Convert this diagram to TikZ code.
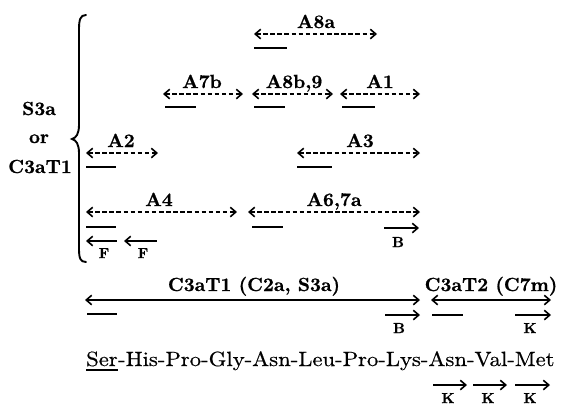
\documentclass[tikz,border=0pt]{standalone}
\usepackage{fontspec}
\setmainfont{lmroman10-regular.otf}[
  FakeStretch=1.1,
  UprightFeatures={FakeBold=0.5},
  BoldFont=lmroman10-bold.otf,
  BoldFeatures={FakeBold=0.9}]
\newfontfamily\labfont{lmroman10-bold.otf}[FakeBold=0.9]
\usetikzlibrary{arrows.meta}

\tikzset{
  lab/.style={font=\fontsize{19bp}{22bp}\labfont, inner sep=0pt, anchor=base},
  small/.style={font=\fontsize{14.5bp}{16bp}\labfont, inner sep=0pt, anchor=base},
  seqtext/.style={font=\fontsize{20.6bp}{24bp}\selectfont, inner sep=0pt, anchor=base west},
  barb/.tip={Straight Barb[length=5.5bp,width=9.5bp]},
  dasharrow/.style={line width=1.6bp, dash pattern=on 4.5bp off 2.6bp, barb-barb},
  solidboth/.style={line width=1.6bp, barb-barb},
  solidright/.style={line width=1.6bp, -barb},
  solidleft/.style={line width=1.6bp, barb-},
  uline/.style={line width=1.7bp},
}

% segment between two named end coordinates: name, x1, x2, y, style
\newcommand\drawseg[5]{%
  \coordinate (#1-l) at (#2,#4);
  \coordinate (#1-r) at (#3,#4);
  \draw[#5] (#1-l) -- (#1-r);
}

\begin{document}
\begin{tikzpicture}[x=1bp,y=-1bp]
\useasboundingbox (0,0) rectangle (561,408);

% bracket grouping the antibody rows
\draw[line width=1.9bp, line cap=round]
  (86,15) .. controls (80,15) and (79,20) .. (79,30) -- (79,125)
  .. controls (79,134) and (76,138) .. (72,139)
  .. controls (76,140) and (79,144) .. (79,153) -- (79,248)
  .. controls (79,258) and (80,262) .. (86,262);

\node[lab] (s3a) at (39,115) {S3a};
\node[lab] (or)  at (39,143) {or};
\node[lab] (c3at1a) at (40,173) {C3aT1};

% row 1
\node[lab] (tA8a) at (316,28) {A8a};
\drawseg{A8a}{254}{377}{34}{dasharrow}
\drawseg{uA8a}{254}{287}{48}{uline}

% row 2
\node[lab] (tA7b) at (202,88) {A7b};
\drawseg{A7b}{163}{243}{94}{dasharrow}
\drawseg{uA7b}{165}{196}{107}{uline}
\node[lab] (tA8b) at (294,88) {A8b,9};
\drawseg{A8b}{252}{333}{94}{dasharrow}
\drawseg{uA8b}{254}{285}{107}{uline}
\node[lab] (tA1) at (380,88) {A1};
\drawseg{A1}{340}{420}{94}{dasharrow}
\drawseg{uA1}{342}{375}{107}{uline}

% row 3
\node[lab] (tA2) at (121,147) {A2};
\drawseg{A2}{86}{158}{153}{dasharrow}
\drawseg{uA2}{86}{116}{167}{uline}
\node[lab] (tA3) at (360,147) {A3};
\drawseg{A3}{297}{420}{153}{dasharrow}
\drawseg{uA3}{297}{332}{167}{uline}

% row 4
\node[lab] (tA4) at (159,206) {A4};
\drawseg{A4}{86}{237}{212}{dasharrow}
\drawseg{uA4}{86}{116}{227}{uline}
\node[lab] (tA67) at (334,206) {A6,7a};
\drawseg{A67}{248}{420}{212}{dasharrow}
\drawseg{uA67}{252}{283}{227}{uline}
\drawseg{bA}{384}{419}{228}{solidright}
\node[small] (lbA) at (398,247) {B};

% F arrows
\drawseg{fA}{86}{117}{241}{solidleft}
\node[small] (lfA) at (104,258) {F};
\drawseg{fB}{124}{157}{241}{solidleft}
\node[small] (lfB) at (143,258) {F};

% fragment arrows
\node[lab] (tT1) at (254,291) {C3aT1 (C2a, S3a)};
\drawseg{T1}{85}{420}{300}{solidboth}
\drawseg{uT1}{87}{117}{314}{uline}
\drawseg{bB}{385}{420}{315}{solidright}
\node[small] (lbB) at (399,333) {B};

\node[lab] (tT2) at (491,291) {C3aT2 (C7m)};
\drawseg{T2}{431}{551}{300}{solidboth}
\drawseg{uT2}{432}{463}{315}{uline}
\drawseg{kA}{515}{551}{315}{solidright}
\node[small] (lkA) at (530,333) {K};

% sequence
\node[seqtext] (ser) at (86,366) {Ser};
\node[seqtext, anchor=base west] (rest) at (ser.base east) {-His-Pro-Gly-Asn-Leu-Pro-Lys-Asn-Val-Met};
\draw[uline] ([yshift=-4bp]ser.base west) -- ([yshift=-4bp]ser.base east);

% K arrows under the sequence
\drawseg{kB}{433}{467}{385}{solidright}
\node[small] (lkB) at (448,403) {K};
\drawseg{kC}{473}{507}{385}{solidright}
\node[small] (lkC) at (488,403) {K};
\drawseg{kD}{515}{550}{385}{solidright}
\node[small] (lkD) at (530,403) {K};
\end{tikzpicture}
\end{document}
